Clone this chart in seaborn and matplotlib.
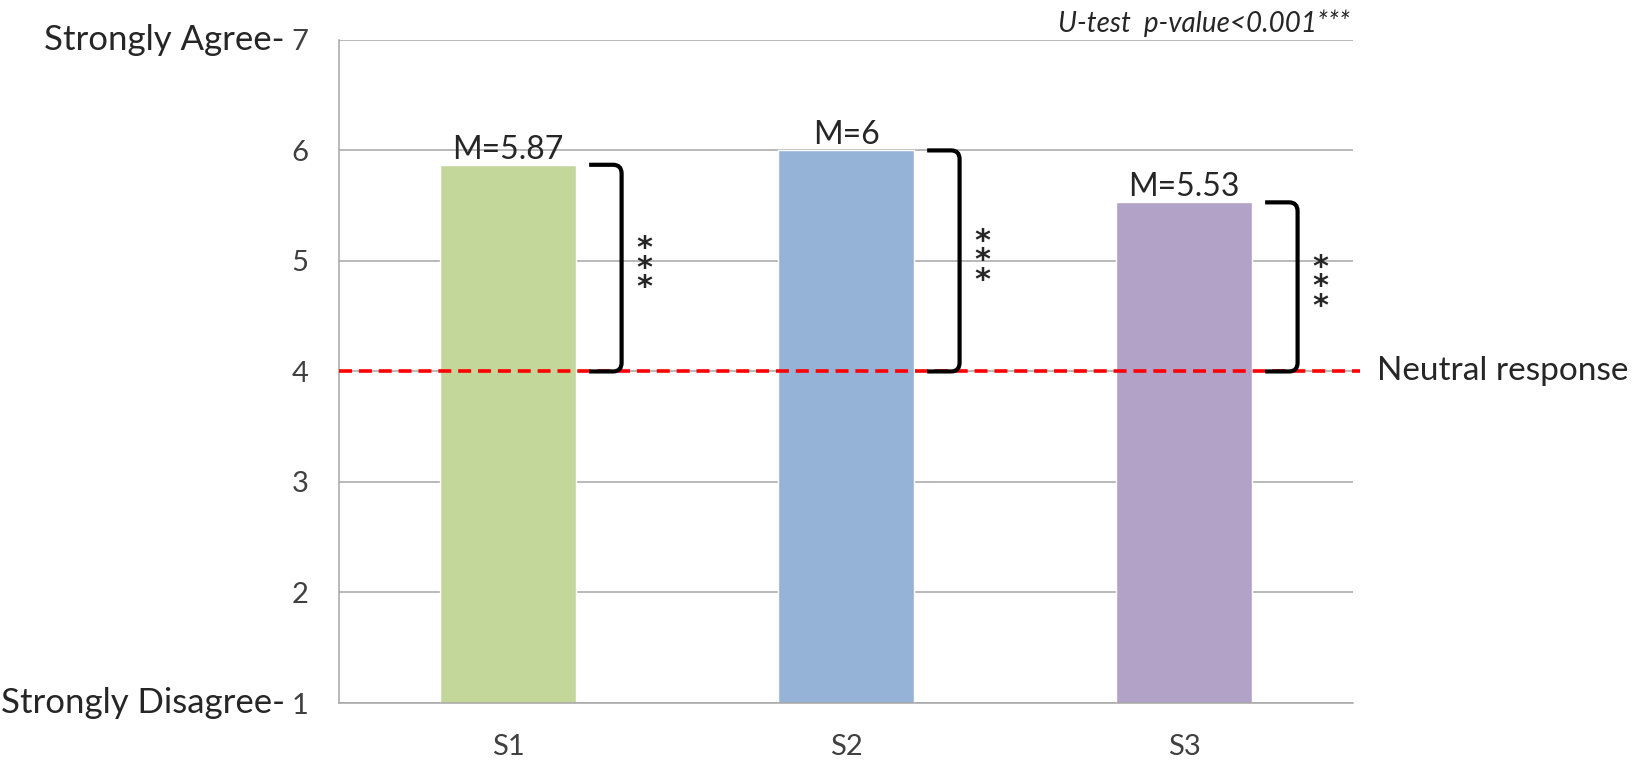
import matplotlib
matplotlib.use('Agg')
import matplotlib.pyplot as plt
import seaborn as sns
import pandas as pd
from matplotlib.path import Path
from matplotlib.patches import PathPatch

# data
groups = ['S1', 'S2', 'S3']
means = [5.87, 6.0, 5.53]
mean_labels = ['M=5.87', 'M=6', 'M=5.53']
bar_colors = ['#C4D79B', '#95B3D7', '#B3A2C7']
neutral = 4
y_ticks = [1, 2, 3, 4, 5, 6, 7]
scale_labels = {7: 'Strongly Agree-', 1: 'Strongly Disagree-'}
test_note = 'U-test  p-value<0.001***'

sns.set_style('white')
plt.rcParams['font.family'] = ['Lato', 'DejaVu Sans']

grid_col = '#A6A6A6'

fig = plt.figure(figsize=(16.45, 7.6), dpi=100)
ax = fig.add_axes([0.2061, 0.075, 0.6164, 0.8725])

df = pd.DataFrame({'group': groups, 'mean': means})
sns.barplot(data=df, x='group', y='mean', hue='group', palette=bar_colors,
            width=0.4, saturation=1, legend=False, ax=ax)

ax.set_ylim(1, 7)
ax.set_xlim(-0.5, 2.5)
ax.set_xlabel('')
ax.set_ylabel('')
ax.set_axisbelow(True)
ax.yaxis.grid(True, color=grid_col, lw=1.1)
for s in ['top', 'right']:
    ax.spines[s].set_visible(False)
for s in ['left', 'bottom']:
    ax.spines[s].set_color(grid_col)
    ax.spines[s].set_linewidth(1.1)

ax.set_yticks(y_ticks)
ax.tick_params(axis='y', length=8, width=1.1, color=grid_col, pad=14,
               labelsize=21, labelcolor='#404040')
ax.set_xticks([-0.5, 0.5, 1.5, 2.5], minor=True)
ax.tick_params(axis='x', which='major', length=0, pad=22, labelsize=21, labelcolor='#404040')
ax.tick_params(axis='x', which='minor', length=8, width=1.1, color=grid_col)

# neutral line
ax.axhline(neutral, xmin=0, xmax=1.007, color='red', lw=2.6, dashes=(3.6, 1.9),
           clip_on=False, zorder=4)
ax.annotate('Neutral response', xy=(1, neutral), xycoords=('axes fraction', 'data'),
            xytext=(17, 0), textcoords='offset points', ha='left', va='center', fontsize=24)

# mean labels, brackets, stars
rx, ry = 0.025, 0.08
for i, (m, lab) in enumerate(zip(means, mean_labels)):
    ax.text(i, m, lab, ha='center', va='bottom', fontsize=23, zorder=6)
    x0, xv = i + 0.24, i + 0.336
    verts = [(x0, m), (xv - rx, m), (xv, m), (xv, m - ry),
             (xv, neutral + ry), (xv, neutral), (xv - rx, neutral), (x0, neutral)]
    codes = [Path.MOVETO, Path.LINETO, Path.CURVE3, Path.CURVE3,
             Path.LINETO, Path.CURVE3, Path.CURVE3, Path.LINETO]
    ax.add_patch(PathPatch(Path(verts, codes), fill=False, lw=3, edgecolor='black',
                           capstyle='butt', joinstyle='round', zorder=5))
    ax.annotate('*\n*\n*', xy=(i + 0.404, (m + neutral) / 2), xytext=(0, 0),
                textcoords='offset points', ha='center', va='center',
                fontsize=22, linespacing=0.58, family='DejaVu Sans', weight='bold')

# scale anchors
for v, txt in scale_labels.items():
    ax.annotate(txt, xy=(0, v), xycoords=('axes fraction', 'data'), xytext=(-39, 0),
                textcoords='offset points', ha='right', va='center', fontsize=25)

ax.text(0.997, 1.004, test_note, transform=ax.transAxes, ha='right', va='bottom',
        style='italic', fontsize=20)

fig.savefig('out.png', dpi=100)
